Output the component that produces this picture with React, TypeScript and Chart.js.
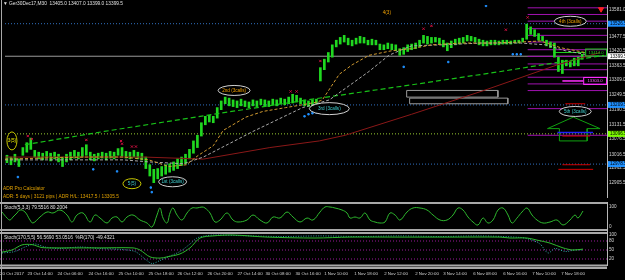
import React, { useEffect, useRef } from "react";
import { Chart, registerables } from "chart.js";

Chart.register(...registerables);

const FONT = "'Liberation Sans', 'DejaVu Sans', sans-serif";

// ---------------- price data (M30 bars, high / low) ----------------
const candleHigh = [
  13013, 13006, 13017, 12999, 13043, 13062, 13080, 13032, 13025, 13021,
  13028, 13021, 13025, 13017, 13006, 13017, 13025, 13032, 13025, 13043,
  13054, 13025, 13017, 13021, 13025, 13021, 13028, 13025, 13039, 13043,
  13028, 13025, 13032, 13025, 13021, 13006, 12976, 12958, 12961, 12969,
  12976, 12980, 12987, 12999, 13006, 13017, 13036, 13069, 13091, 13140,
  13165, 13169, 13165, 13199, 13225, 13240, 13236, 13229, 13225, 13232,
  13225, 13221, 13229, 13225, 13232, 13229, 13225, 13232, 13229, 13236,
  13232, 13240, 13251, 13247, 13236, 13229, 13225, 13229, 13232, 13355,
  13388, 13414, 13444, 13462, 13473, 13481, 13470, 13462, 13470, 13477,
  13473, 13462, 13466, 13462, 13447, 13444, 13451, 13447, 13444, 13429,
  13433, 13444, 13447, 13451, 13462, 13481, 13477, 13473, 13473, 13470,
  13462, 13451, 13459, 13466, 13470, 13473, 13481, 13477, 13473, 13466,
  13462, 13459, 13462, 13462, 13459, 13462, 13462, 13459, 13462, 13462,
  13470, 13525, 13514, 13503, 13488, 13477, 13462, 13455, 13451, 13396,
  13384, 13384, 13381, 13392, 13396, 13407,
];
const candleLow = [
  12984, 12976, 12987, 12969, 13013, 13025, 13036, 13006, 12999, 12995,
  13002, 12991, 12999, 12987, 12969, 12987, 12995, 13002, 12999, 13006,
  13013, 12995, 12991, 12999, 13002, 12995, 13002, 12999, 13013, 13010,
  13002, 12999, 13006, 12999, 12995, 12961, 12932, 12906, 12921, 12932,
  12939, 12947, 12954, 12961, 12973, 12980, 12999, 13021, 13043, 13088,
  13132, 13143, 13140, 13158, 13191, 13214, 13206, 13203, 13199, 13206,
  13203, 13199, 13206, 13203, 13210, 13206, 13203, 13210, 13206, 13214,
  13210, 13214, 13217, 13221, 13214, 13206, 13203, 13206, 13214, 13303,
  13347, 13377, 13396, 13436, 13447, 13455, 13444, 13440, 13447, 13451,
  13451, 13444, 13444, 13444, 13425, 13425, 13429, 13425, 13421, 13403,
  13407, 13418, 13425, 13429, 13436, 13451, 13447, 13451, 13455, 13447,
  13436, 13421, 13433, 13444, 13447, 13451, 13459, 13459, 13455, 13444,
  13440, 13440, 13444, 13444, 13444, 13447, 13447, 13447, 13451, 13451,
  13455, 13466, 13485, 13477, 13462, 13459, 13440, 13433, 13396, 13340,
  13332, 13362, 13358, 13362, 13362, 13388,
];

const priceTicks = [13581.0, 13524.0, 13477.5, 13420.5, 13363.5, 13309.0, 13249.5, 13190.5, 13131.5, 13076.5, 13016.5, 12962.5, 12905.5];

const dateTickIdx = [2.5, 9.5, 17, 24.75, 32.25, 39.75, 47, 54.5, 62, 69, 76.5, 83.5, 91, 98.5, 106.25, 113.25, 120.75, 128.25, 135.5, 142.75];
const dateTickLabels = [
  "20 Oct 2017", "23 Oct 14:00", "24 Oct 06:00", "24 Oct 16:00", "25 Oct 10:00", "25 Oct 18:00",
  "26 Oct 12:00", "26 Oct 20:00", "27 Oct 14:00", "30 Oct 08:00", "30 Oct 16:00", "1 Nov 10:00",
  "1 Nov 18:00", "2 Nov 12:00", "2 Nov 20:00", "3 Nov 14:00", "6 Nov 08:00", "6 Nov 16:00",
  "7 Nov 10:00", "7 Nov 18:00",
];

// moving averages [bar index, price]
const maFast = [[-0.5, 12998], [9.5, 13002], [19.5, 13006], [29.5, 13006], [35.75, 12995], [40.75, 12969], [45.25, 12976], [48.25, 13013], [52, 13050], [54.5, 13110], [60.25, 13162], [64.5, 13184], [70.25, 13199], [74.5, 13210], [78.25, 13221], [79.5, 13229], [83.75, 13329], [87, 13366], [91.25, 13403], [97, 13421], [102, 13429], [107, 13444], [114.5, 13451], [122, 13451], [129.5, 13455], [134.5, 13459], [139.5, 13433], [145.75, 13414]];
const maMid = [[-0.5, 12995], [14.5, 12995], [29.5, 12995], [35.75, 12987], [44.5, 12980], [49.5, 13006], [62, 13106], [74.5, 13199], [81.25, 13229], [91.25, 13340], [96.25, 13403], [99.5, 13425], [102, 13440], [109.5, 13444], [119.5, 13451], [129.5, 13451], [135.75, 13444], [140.75, 13421], [145.75, 13407]];
const maTrend = [[4.5, 13054], [24.5, 13106], [52, 13173], [77, 13232], [102, 13288], [124.5, 13340], [139.5, 13377], [150.5, 13403]];
const maSlow = [[-0.5, 13006], [34.5, 13006], [49.5, 12998], [66.25, 13043], [78.75, 13069], [85.25, 13091], [102, 13173], [120.25, 13266], [138.75, 13366], [149.5, 13414]];

const bidPrice = 13399.5;
const blueLevels = [13526.5, 13209.5, 12978.5];
const greenLevel = 13096.5;
const fiboStart = 131.25;
const fiboLevels = [13588.5, 13562.5, 13536.5, 13507, 13481, 13455, 13425, 13399, 13369.5, 13347, 13317.5, 13291.5, 13265.5, 13195, 13091];

const redMarks = [[5.25, 13088], [6.25, 13076], [20, 13073], [28.75, 13069], [29, 13058], [31.5, 13047], [32.5, 13047], [71.5, 13262], [73, 13262], [79, 13381], [105, 13507], [107, 13518], [125.75, 13503], [131.25, 13551]];
const blueMarks = [[2.75, 12928], [21.75, 12958], [27.75, 12950], [36.25, 12887], [36.5, 12869], [75, 13165], [76, 13173], [77, 13177], [78, 13180], [100, 13358], [111.25, 13377], [120.75, 13596], [127.5, 13407], [128.5, 13407], [129.5, 13407]];
const arrowMarks = [[149.75, 13583]];

const redSegments = [[140.75, 145.75, 13214], [140, 147, 13088], [140, 147, 12976], [139, 147.75, 12958]];
const blueSegments = [[138.75, 147.75, 13102]];
const arrowShape = [[136.25, 13117], [142.75, 13162], [149.5, 13117], [146.25, 13117], [146.25, 13069], [139.25, 13069], [139.25, 13117], [136.25, 13117]];
const boxA = [100.75, 123.75, 13266, 13240];
const boxB = [101.5, 126.25, 13236, 13214];
const greenPointer = [137.75, 145.75, 13414];
const magentaPointer = [140, 145.25, 13303];

// oscillators [bar index, value]
const stochFast = [[0, 75], [1.25, 45], [2, 35], [2.75, 50], [3.75, 70], [4.5, 85], [5.75, 75], [7, 35], [7.75, 20], [9.5, 50], [11.25, 75], [12.75, 70], [14.5, 85], [16.25, 60], [17.5, 25], [18.75, 60], [20.25, 70], [22, 25], [23.25, 60], [24.5, 45], [26.25, 20], [27.5, 45], [28.75, 50], [30, 25], [31.25, 50], [32.75, 60], [34.5, 35], [36.25, 20], [37.5, 0], [38.75, 60], [39.5, 95], [40.25, 45], [41.25, 20], [42, 70], [42.75, 95], [43.75, 60], [45, 35], [46.25, 70], [47.5, 95], [48.75, 95], [50, 100], [50.75, 95], [52, 70], [53.25, 25], [54.5, 35], [56.25, 70], [57.75, 35], [59, 25], [61.25, 35], [62.75, 60], [64.5, 35], [66.25, 20], [67.75, 50], [69.5, 45], [71.25, 75], [72.75, 50], [74.5, 25], [76.25, 45], [77.75, 35], [79.5, 75], [80.75, 100], [82, 100], [83.25, 95], [85, 85], [86.25, 70], [87, 45], [88.25, 50], [89.5, 45], [90.75, 70], [92, 35], [93.25, 25], [94.5, 20], [95.75, 25], [97, 70], [98.25, 60], [99.5, 35], [101.25, 75], [102.75, 95], [104.5, 95], [106.25, 85], [107.75, 60], [109.5, 35], [111.25, 35], [112.75, 60], [114, 95], [115.25, 85], [116.5, 50], [117.75, 25], [119, 10], [120.25, 45], [121.5, 20], [122.75, 35], [124, 85], [125.25, 95], [126.5, 60], [127.5, 20], [128.75, 45], [130, 75], [131.25, 95], [132.5, 60], [133.75, 35], [135.25, 20], [137, 25], [138.75, 35], [140.25, 10], [142, 35], [143.25, 60], [144, 45], [145.25, 80]];
const stochSlow = [[0, 43], [2.5, 50], [5, 67], [7.5, 68], [10, 58], [12.75, 57], [16.25, 57], [24.5, 57], [32.75, 57], [34.5, 50], [37, 27], [39.5, 23], [41.25, 27], [44.5, 37], [47, 57], [49.5, 90], [52.75, 97], [57.75, 100], [66.25, 93], [78.25, 90], [87, 93], [99.5, 93], [112, 93], [124.5, 93], [127, 90], [131.25, 90], [133.75, 83], [137, 73], [140.25, 57], [142.75, 50], [145.25, 53]];
const williamsR = [[0, 40], [3.25, 45], [5.75, 60], [8.25, 70], [10.75, 60], [14.5, 55], [19.5, 60], [24.5, 55], [29.5, 52], [33.25, 45], [35.75, 20], [37.5, 5], [39.5, 15], [42, 30], [44.5, 45], [47, 70], [48.75, 90], [50.75, 97], [53.25, 100], [59.5, 98], [69.5, 95], [79.5, 97], [89.5, 95], [99.5, 97], [109.5, 95], [119.5, 97], [129.5, 92], [132, 85], [134.5, 70], [136.5, 40], [138.25, 55], [140.75, 45], [143.25, 50], [145.25, 50]];
const stochLevels = [80, 50, 20];
const stoch1Ticks = [100, 0];
const stoch2Ticks = [100, 80, 50, 20];

// ---------------- helpers ----------------
const X_MIN = -0.5;
const X_MAX = 151.25;
const pts = (arr: number[][]) => arr.map(([x, y]) => ({ x, y }));
const seg = (x0: number, x1: number, y: number) => [{ x: x0, y }, { x: x1, y }];
const rectPts = (b: number[]) => [
  { x: b[0], y: b[2] }, { x: b[1], y: b[2] }, { x: b[1], y: b[3] }, { x: b[0], y: b[3] }, { x: b[0], y: b[2] },
];

const lineDs = (data: any[], color: string, extra: any = {}) => ({
  type: "line",
  data,
  borderColor: color,
  borderWidth: 1,
  pointRadius: 0,
  fill: false,
  tension: 0,
  order: 2,
  ...extra,
});

const xAxis = (display: boolean) => ({
  type: "linear",
  min: X_MIN,
  max: X_MAX,
  display,
  offset: false,
  grid: { display: false, drawTicks: false },
  border: { display: false },
});

const rightAxis = (min: number, max: number, ticks: number[], fmt: (v: number) => string) => ({
  type: "linear",
  position: "right",
  min,
  max,
  afterFit: (s: any) => {
    s.width = 18;
    s.paddingTop = 0;
    s.paddingBottom = 0;
  },
  afterBuildTicks: (s: any) => {
    s.ticks = ticks.map((v) => ({ value: v }));
  },
  ticks: {
    autoSkip: false,
    color: "#d4d4d4",
    padding: 1,
    font: { family: FONT, size: 4.6 },
    callback: (v: any) => fmt(Number(v)),
  },
  grid: { display: true, drawOnChartArea: false, tickLength: 1, color: "#b8b8b8" },
  border: { display: true, color: "#b8b8b8", width: 1 },
});

const callouts = [
  { text: "3(5)", x: 1.25, y: 13069, rx: 5, ry: 9, stroke: "#c8c800", color: "#e8e800" },
  { text: "5(5)", x: 31.5, y: 12902, rx: 9, ry: 5, stroke: "#c8c800", color: "#40c8c8" },
  { text: "1st (3calls)", x: 41.75, y: 12909.5, rx: 14, ry: 5, stroke: "#d0d0d0", color: "#40d0d0" },
  { text: "2nd (3calls)", x: 57.25, y: 13266, rx: 16, ry: 5, stroke: "#d0d0d0", color: "#f0a000" },
  { text: "3rd (3calls)", x: 81.25, y: 13195, rx: 20, ry: 6, stroke: "#d0d0d0", color: "#40d0d0" },
  { text: "4th (3calls)", x: 142, y: 13536, rx: 16, ry: 5, stroke: "#d0d0d0", color: "#f0a000" },
  { text: "5th (3calls)", x: 143.25, y: 13184, rx: 16, ry: 5, stroke: "#d0d0d0", color: "#40d0d0" },
];

const frameLines = (lines: number[][]) => ({
  id: "frameLines",
  afterDraw(chart: any) {
    const { ctx } = chart;
    ctx.save();
    ctx.fillStyle = "#a8a8a8";
    for (const [y, h] of lines) ctx.fillRect(0, y, chart.chartArea.right, h);
    ctx.fillRect(1, 0, 1, chart.height);
    ctx.restore();
  },
});

const panelTitle = (text: string) => ({
  id: "panelTitle",
  afterDraw(chart: any) {
    const { ctx } = chart;
    ctx.save();
    ctx.font = `4.8px ${FONT}`;
    ctx.fillStyle = "#e0e0e0";
    ctx.textAlign = "left";
    ctx.textBaseline = "middle";
    ctx.fillText(text, 4, 5.5);
    ctx.restore();
  },
});

const mainOverlay = {
  id: "mainOverlay",
  afterDatasetsDraw(chart: any) {
    const { ctx } = chart;
    const xs = chart.scales.x;
    const ys = chart.scales.y;
    ctx.save();
    ctx.textBaseline = "middle";
    ctx.font = `4.6px ${FONT}`;
    ctx.textAlign = "center";
    for (const c of callouts) {
      const cx = xs.getPixelForValue(c.x);
      const cy = ys.getPixelForValue(c.y);
      ctx.beginPath();
      ctx.ellipse(cx, cy, c.rx, c.ry, 0, 0, Math.PI * 2);
      ctx.fillStyle = "#000";
      ctx.fill();
      ctx.strokeStyle = c.stroke;
      ctx.lineWidth = 1;
      ctx.stroke();
      ctx.fillStyle = c.color;
      ctx.fillText(c.text, cx, cy);
    }
    ctx.fillStyle = "#f0a000";
    ctx.fillText("4(3)", xs.getPixelForValue(95.75), ys.getPixelForValue(13570));

    const gx0 = xs.getPixelForValue(greenPointer[1]);
    const gy = ys.getPixelForValue(greenPointer[2]);
    ctx.strokeStyle = "#20d020";
    ctx.strokeRect(gx0 + 0.5, gy - 3.5, chart.chartArea.right - gx0 - 1, 7);
    ctx.fillStyle = "#20d020";
    ctx.font = `4.2px ${FONT}`;
    ctx.fillText(greenPointer[2].toFixed(1), (gx0 + chart.chartArea.right) / 2, gy);
    const mx0 = xs.getPixelForValue(magentaPointer[1]);
    const my = ys.getPixelForValue(magentaPointer[2]);
    ctx.strokeStyle = "#ff30ff";
    ctx.strokeRect(mx0 + 0.5, my - 3.5, chart.chartArea.right - mx0 - 1, 7);
    ctx.fillStyle = "#ff60ff";
    ctx.fillText(magentaPointer[2].toFixed(1), (mx0 + chart.chartArea.right) / 2, my);

    ctx.textAlign = "left";
    ctx.font = `4.8px ${FONT}`;
    ctx.fillStyle = "#e0e0e0";
    ctx.fillText("\u25BC Ger30Dec17,M30  13405.0 13407.0 13399.0 13399.5", 3, 3.5);
    ctx.fillStyle = "#e0a000";
    ctx.fillText("ADR Pro Calculator", 3, 189);
    ctx.fillText("ADR: 5 days | 3121 pips | ADR H/L: 13417.5 / 13305.5", 3, 197);
    ctx.restore();
  },
  afterDraw(chart: any) {
    const { ctx } = chart;
    const ys = chart.scales.y;
    const left = chart.chartArea.right + 1;
    const tags = [
      ...blueLevels.map((p) => ({ p, bg: "#1e90ff", fg: "#000" })),
      { p: greenLevel, bg: "#7cfc00", fg: "#000" },
      { p: bidPrice, bg: "#ffffff", fg: "#000" },
    ];
    ctx.save();
    ctx.font = `4.6px ${FONT}`;
    ctx.textAlign = "left";
    ctx.textBaseline = "middle";
    for (const t of tags) {
      const y = ys.getPixelForValue(t.p);
      ctx.fillStyle = t.bg;
      ctx.fillRect(left, y - 3, chart.width - left, 6);
      ctx.fillStyle = t.fg;
      ctx.fillText(t.p.toFixed(1), left + 2, y);
    }
    ctx.fillStyle = "#a8a8a8";
    ctx.fillRect(1, 0, 1, chart.height);
    ctx.restore();
  },
};

const baseOptions = {
  responsive: false,
  maintainAspectRatio: false,
  animation: false,
  events: [],
  devicePixelRatio: 1,
  layout: { padding: 0 },
  plugins: { legend: { display: false }, tooltip: { enabled: false } },
};

function mainConfig(): any {
  const datasets: any[] = [
    {
      type: "scatter",
      data: pts(redMarks),
      borderColor: "#d01040",
      backgroundColor: "#d01040",
      pointStyle: "crossRot",
      pointRadius: 1.6,
      borderWidth: 1,
      order: 0,
    },
    {
      type: "scatter",
      data: pts(blueMarks),
      borderColor: "#2090ff",
      backgroundColor: "#2090ff",
      pointStyle: "rect",
      pointRadius: 1,
      borderWidth: 1,
      order: 0,
    },
    {
      type: "scatter",
      data: pts(arrowMarks),
      borderColor: "#ff2020",
      backgroundColor: "#ff2020",
      pointStyle: "triangle",
      rotation: 180,
      pointRadius: 3,
      order: 0,
    },
    lineDs(pts(maFast), "#d09a30", { borderDash: [3, 2], order: 1 }),
    lineDs(pts(maMid), "#a8a8a8", { borderDash: [3, 2], order: 1 }),
    lineDs(pts(maTrend), "#18c018", { borderDash: [5, 3], order: 1, borderWidth: 1.2 }),
    lineDs(pts(maSlow), "#8a1818", { order: 1 }),
    {
      type: "bar",
      data: candleHigh.map((h, i) => ({ x: i, y: [candleLow[i], h] })),
      backgroundColor: "#20d820",
      borderWidth: 0,
      barThickness: 2,
      grouped: false,
      order: 2,
    },
    lineDs(seg(X_MIN, X_MAX, bidPrice), "#9a9a9a", { order: 6 }),
    ...blueLevels.map((p) => lineDs(seg(X_MIN, X_MAX, p), "#3070c0", { borderDash: [1, 2], order: 6 })),
    lineDs(seg(X_MIN, X_MAX, greenLevel), "#9acd32", { borderDash: [1, 2], order: 6 }),
    ...fiboLevels.map((p) => lineDs(seg(fiboStart, X_MAX, p), "#a012b0", { order: 5 })),
    ...redSegments.map((s) => lineDs(seg(s[0], s[1], s[2]), "#d00000", { order: 3 })),
    ...blueSegments.map((s) => lineDs(seg(s[0], s[1], s[2]), "#2020ff", { order: 3, borderWidth: 1.5 })),
    lineDs(pts(arrowShape), "#10a010", { order: 3 }),
    lineDs(rectPts(boxA), "#9a9a9a", { order: 3 }),
    lineDs(rectPts(boxB), "#9a9a9a", { order: 3 }),
    lineDs(seg(greenPointer[0], greenPointer[1], greenPointer[2]), "#20d020", { order: 3 }),
    lineDs(seg(magentaPointer[0], magentaPointer[1], magentaPointer[2]), "#ff30ff", { order: 3, borderWidth: 1.5 }),
  ];
  return {
    type: "bar",
    data: { datasets },
    options: {
      ...baseOptions,
      scales: {
        x: xAxis(false),
        y: rightAxis(12850.1, 13599.5, priceTicks, (v) => v.toFixed(1)),
      },
    },
    plugins: [mainOverlay],
  };
}

function stoch1Config(): any {
  return {
    type: "line",
    data: {
      datasets: [lineDs(pts(stochFast), "#2eb82e", { tension: 0.4 })],
    },
    options: {
      ...baseOptions,
      scales: {
        x: xAxis(false),
        y: rightAxis(-25, 125, stoch1Ticks, (v) => String(v)),
      },
    },
    plugins: [frameLines([[0, 2], [27, 2]]), panelTitle("Stoch(5,3,3) 79.5516 80.2004")],
  };
}

function stoch2Config(): any {
  const xa: any = {
    ...xAxis(true),
    position: "bottom",
    afterFit: (s: any) => {
      s.height = 15;
      s.paddingLeft = 0;
      s.paddingRight = 0;
    },
    afterBuildTicks: (s: any) => {
      s.ticks = dateTickIdx.map((v) => ({ value: v }));
    },
    ticks: {
      autoSkip: false,
      maxRotation: 0,
      minRotation: 0,
      color: "#d4d4d4",
      padding: 6,
      font: { family: FONT, size: 4.4 },
      callback: (_v: any, i: number) => dateTickLabels[i],
    },
  };
  return {
    type: "line",
    data: {
      datasets: [
        lineDs(pts(williamsR), "#30a8a8", { borderDash: [1, 1.5], tension: 0.3, order: 1 }),
        lineDs(pts(stochSlow), "#2eb82e", { tension: 0.3, order: 0 }),
        ...stochLevels.map((v) => lineDs(seg(X_MIN, X_MAX, v), "#9a1a9a", { borderDash: [1, 2], order: 3 })),
      ],
    },
    options: {
      ...baseOptions,
      scales: {
        x: xa,
        y: rightAxis(0, 110, stoch2Ticks, (v) => String(v)),
      },
    },
    plugins: [frameLines([[0, 2], [32.5, 2], [35, 2]]), panelTitle("Stoch(170,5,5) 56.5690 53.0516  %R(170) -49.4321")],
  };
}

export default function App() {
  const mainRef = useRef<HTMLCanvasElement>(null);
  const s1Ref = useRef<HTMLCanvasElement>(null);
  const s2Ref = useRef<HTMLCanvasElement>(null);

  useEffect(() => {
    document.body.style.margin = "0";
    document.body.style.background = "#000";
    const charts: Chart[] = [];
    if (mainRef.current) charts.push(new Chart(mainRef.current, mainConfig()));
    if (s1Ref.current) charts.push(new Chart(s1Ref.current, stoch1Config()));
    if (s2Ref.current) charts.push(new Chart(s2Ref.current, stoch2Config()));
    return () => charts.forEach((c) => c.destroy());
  }, []);

  const cs = (top: number, h: number): React.CSSProperties => ({
    position: "absolute",
    left: 0,
    top,
    width: 625,
    height: h,
  });

  return (
    <div style={{ position: "relative", width: 625, height: 280, background: "#000", overflow: "hidden" }}>
      <canvas ref={mainRef} width={625} height={202} style={cs(0, 202)} />
      <canvas ref={s1Ref} width={625} height={30} style={cs(202, 30)} />
      <canvas ref={s2Ref} width={625} height={48} style={cs(232, 48)} />
    </div>
  );
}
